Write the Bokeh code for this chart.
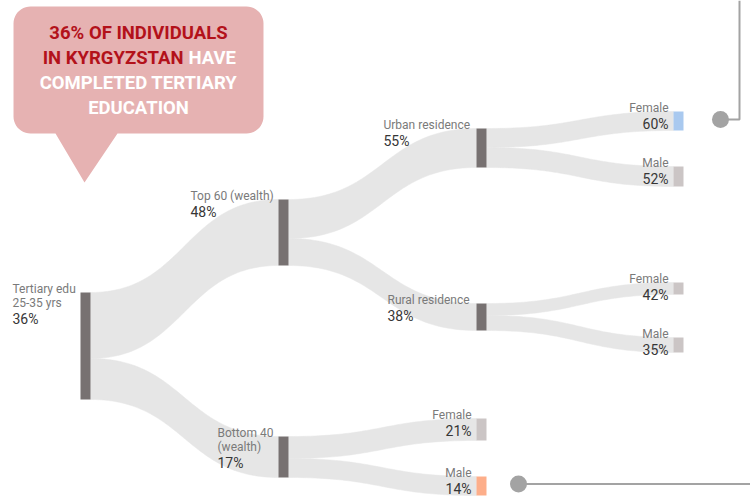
import numpy as np
from bokeh.plotting import figure
from bokeh.models import Range1d
from bokeh.embed import file_html
from bokeh.resources import INLINE
from bokeh.core.properties import value

# ---------------- DATA ----------------
node_lines = [["Tertiary edu", "25-35 yrs"], ["Top 60 (wealth)"], ["Bottom 40", "(wealth)"],
              ["Urban residence"], ["Rural residence"],
              ["Female"], ["Male"], ["Female"], ["Male"], ["Female"], ["Male"]]
node_pct = [36, 48, 17, 55, 38, 60, 52, 42, 35, 21, 14]
link_source = [0, 0, 1, 1, 3, 3, 4, 4, 2, 2]
link_target = [1, 2, 3, 4, 5, 6, 7, 8, 9, 10]
leaf_nodes = [5, 6, 7, 8, 9, 10]
leaf_size = [19, 20, 12, 15, 22, 19]
headline_red1 = "36% OF INDIVIDUALS"
headline_red2 = "IN KYRGYZSTAN"
headline_white2 = "HAVE"
headline_white3 = "COMPLETED TERTIARY"
headline_white4 = "EDUCATION"

# ---------------- LAYOUT / STYLE ----------------
node_x = [80, 278, 278, 476, 476, 673, 673, 673, 673, 476, 476]
node_top = [292, 199, 436, 128, 303, 111, 166, 282, 337, 418, 476]
label_x = [12, 190, 217, 383, 387, None, None, None, None, None, None]
NODE_W = 10
DARK = "#777171"
LEAF = "#cbc5c5"
node_color = [DARK, DARK, DARK, DARK, DARK, "#a9c9ef", LEAF, LEAF, LEAF, LEAF, "#fdae8a"]
LINK = "#e6e6e6"
NAME_C = "#7a7a7a"
PCT_C = "#363636"
FONT = "Roboto"

# node sizes from leaf sizes
size = {n: s for n, s in zip(leaf_nodes, leaf_size)}
def node_size(n):
    if n in size:
        return size[n]
    s = sum(node_size(t) for src, t in zip(link_source, link_target) if src == n)
    size[n] = s
    return s
for n in range(len(node_x)):
    node_size(n)

p = figure(width=750, height=500, output_backend="svg", toolbar_location=None,
           x_range=Range1d(0, 750), y_range=Range1d(500, 0),
           x_axis_location=None, y_axis_location=None, min_border=0)
p.grid.visible = False
p.outline_line_color = None
p.background_fill_color = "white"
p.border_fill_color = "white"

# ---------------- links ----------------
t = np.linspace(0, 1, 60)
def bez(a, b):
    return (1 - t) ** 3 * a + 3 * (1 - t) ** 2 * t * a + 3 * (1 - t) * t ** 2 * b + t ** 3 * b

offset = {n: 0 for n in range(len(node_x))}
xs, ys = [], []
for s, d in zip(link_source, link_target):
    w = size[d]
    x0 = node_x[s] + NODE_W
    x1 = node_x[d]
    y0 = node_top[s] + offset[s]
    offset[s] += w
    y1 = node_top[d]
    xm = (x0 + x1) / 2
    xx = (1 - t) ** 3 * x0 + 3 * (1 - t) ** 2 * t * xm + 3 * (1 - t) * t ** 2 * xm + t ** 3 * x1
    top = bez(y0, y1)
    bot = bez(y0 + w, y1 + w)
    xs.append(list(xx) + list(xx[::-1]))
    ys.append(list(top) + list(bot[::-1]))
p.patches(xs, ys, fill_color=LINK, line_color=LINK, line_width=0.5)

# ---------------- nodes ----------------
p.quad(left=node_x, right=[x + NODE_W for x in node_x], top=node_top,
       bottom=[node_top[i] + size[i] for i in range(len(node_x))],
       fill_color=node_color, line_color=None)

# ---------------- labels ----------------
for i in range(len(node_x)):
    lines = node_lines[i]
    ys_l = [node_top[i] - 4 + 14.5 * k for k in range(len(lines))]
    ypct = ys_l[-1] + 16
    if label_x[i] is None:
        xl = node_x[i] - 5
        align = "right"
    else:
        xl = label_x[i]
        align = "left"
    p.text(x=[xl] * len(lines), y=ys_l, text=lines, text_font=value(FONT),
           text_font_size="12px", text_color=NAME_C, text_align=align,
           text_baseline="middle")
    p.text(x=[xl], y=[ypct], text=[f"{node_pct[i]}%"], text_font=value(FONT),
           text_font_size="14px", text_color=PCT_C, text_align=align,
           text_baseline="middle")

# ---------------- callout pointers ----------------
GREY = "#a3a3a3"
cy1 = node_top[5] + size[5] / 2 - 1.5
p.line([720, 739, 739], [cy1, cy1, 0], line_color=GREY, line_width=2)
p.scatter([720], [cy1], size=17, fill_color=GREY, line_color=None)
cy2 = node_top[10] + size[10] / 2 - 2
p.line([518, 750], [cy2, cy2], line_color=GREY, line_width=2)
p.scatter([518], [cy2], size=17, fill_color=GREY, line_color=None)

# ---------------- speech bubble ----------------
BX0, BX1, BY0, BY1, R = 13, 263, 6, 133, 17
def arc(cx, cy, a0, a1):
    a = np.linspace(a0, a1, 12)
    return list(cx + R * np.cos(a)), list(cy + R * np.sin(a))
bx, by = [], []
for cx, cy, a0, a1 in [(BX0 + R, BY0 + R, np.pi, 1.5 * np.pi),
                       (BX1 - R, BY0 + R, 1.5 * np.pi, 2 * np.pi),
                       (BX1 - R, BY1 - R, 0, 0.5 * np.pi)]:
    ax, ay = arc(cx, cy, a0, a1)
    bx += ax; by += ay
bx += [117, 84, 55]; by += [BY1, 182, BY1]
ax, ay = arc(BX0 + R, BY1 - R, 0.5 * np.pi, np.pi)
bx += ax; by += ay
p.patch(bx, by, fill_color="#e6b2b2", line_color=None)

RED = "#b3111a"
HF = "18.5px"
p.text(x=[138], y=[32], text=[headline_red1], text_font=value(FONT), text_font_style="bold",
       text_font_size=HF, text_color=RED, text_align="center", text_baseline="middle")
p.text(x=[183], y=[57], text=[headline_red2], text_font=value(FONT), text_font_style="bold",
       text_font_size=HF, text_color=RED, text_align="right", text_baseline="middle")
p.text(x=[188], y=[57], text=[headline_white2], text_font=value(FONT), text_font_style="bold",
       text_font_size=HF, text_color="white", text_align="left", text_baseline="middle")
p.text(x=[138, 138], y=[82, 107], text=[headline_white3, headline_white4], text_font=value(FONT),
       text_font_style="bold", text_font_size=HF, text_color="white", text_align="center",
       text_baseline="middle")

open("out.html", "w").write(file_html(p, INLINE))
